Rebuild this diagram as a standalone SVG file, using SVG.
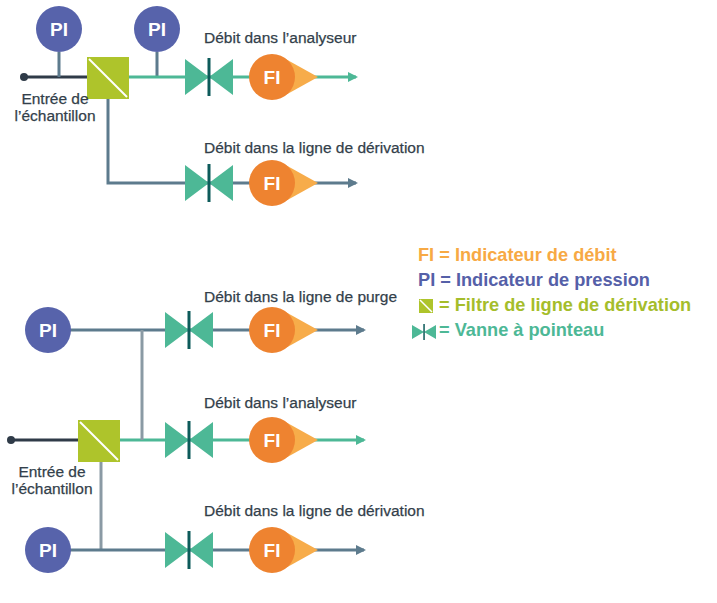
<svg xmlns="http://www.w3.org/2000/svg" width="717" height="603" viewBox="0 0 717 603">
<defs>
<style>
.lbl{font-family:"Liberation Sans",Arial,sans-serif;font-size:15.5px;fill:#333f4b;stroke:#333f4b;stroke-width:0.25}
.pi{fill:#5763ab}
.pit{font-family:"Liberation Sans",Arial,sans-serif;font-size:19px;font-weight:bold;fill:#fff;text-anchor:middle}
.dark{stroke:#2f3b48;stroke-width:3;fill:none}
.grey{stroke:#5d7b8d;stroke-width:3;fill:none}
.grn{stroke:#4db896;stroke-width:3;fill:none}
.lg{font-family:"Liberation Sans",Arial,sans-serif;font-size:18.2px;font-weight:bold}
</style>
<marker id="ag" markerWidth="10" markerHeight="10" refX="8" refY="5" orient="auto" markerUnits="userSpaceOnUse"><path d="M0,0L10,5L0,10z" fill="#4db896"/></marker>
<marker id="ab" markerWidth="10" markerHeight="10" refX="8" refY="5" orient="auto" markerUnits="userSpaceOnUse"><path d="M0,0L10,5L0,10z" fill="#5d7b8d"/></marker>
<g id="valve"><path d="M-24,-18L0,0L-24,18z M24,-18L0,0L24,18z" fill="#4db896"/><rect x="-1.5" y="-19" width="3" height="38" fill="#0d5b5a"/></g>
<g id="fi"><path d="M10,-20L46,0L10,20z" fill="#f7ac4a"/><circle r="23" fill="#ee8330"/><text y="7" class="pit">FI</text></g>
<g id="filt"><rect x="0" y="0" width="42" height="42" fill="#aec42b"/><path d="M2,2L40,40" stroke="#fff" stroke-width="2"/></g>
</defs>
<g id="connectors">
<path class="dark" d="M24,77H87"/>
<path class="grey" d="M59,52V77M157,52V77"/>
<path class="grn" d="M129,77H356" marker-end="url(#ag)"/>
<path class="grey" d="M108,99V183H356" marker-end="url(#ab)"/>
<path class="dark" d="M11,440H78"/>
<path class="grn" d="M119,440H364" marker-end="url(#ag)"/>
<path class="grey" d="M70,330H364" marker-end="url(#ab)"/>
<path class="grey" d="M142,330V440" style="stroke:#8a9aa4"/>
<path class="grey" d="M101,461V550" style="stroke:#8a9aa4"/>
<path class="grey" d="M70,550H364" marker-end="url(#ab)"/>
<circle cx="24" cy="77" r="4" fill="#2f3b48"/>
<circle cx="11" cy="440" r="4" fill="#2f3b48"/>
</g>
<g id="pi1"><circle class="pi" cx="59" cy="29" r="23"/><text x="59" y="36" class="pit">PI</text></g>
<g id="pi2"><circle class="pi" cx="157" cy="29" r="23"/><text x="157" y="36" class="pit">PI</text></g>
<g id="filter1"><use href="#filt" x="87" y="57"/></g>
<g id="valve1"><use href="#valve" x="209" y="77"/></g>
<g id="fi1"><use href="#fi" x="272" y="77"/></g>
<g id="valve2"><use href="#valve" x="209" y="183"/></g>
<g id="fi2"><use href="#fi" x="272" y="183"/></g>
<text class="lbl" x="204" y="43">Débit dans l’analyseur</text>
<text class="lbl" x="204" y="153">Débit dans la ligne de dérivation</text>
<text class="lbl" x="55" y="104" text-anchor="middle">Entrée de</text>
<text class="lbl" x="55" y="121" text-anchor="middle">l’échantillon</text>

<g id="pi3"><circle class="pi" cx="48" cy="330" r="23"/><text x="48" y="337" class="pit">PI</text></g>
<g id="pi4"><circle class="pi" cx="48" cy="550" r="23"/><text x="48" y="557" class="pit">PI</text></g>
<g id="filter2"><use href="#filt" x="78" y="420"/></g>
<g id="valve3"><use href="#valve" x="189" y="330"/></g>
<g id="fi3"><use href="#fi" x="272" y="330"/></g>
<g id="valve4"><use href="#valve" x="189" y="440"/></g>
<g id="fi4"><use href="#fi" x="272" y="440"/></g>
<g id="valve5"><use href="#valve" x="189" y="550"/></g>
<g id="fi5"><use href="#fi" x="272" y="550"/></g>
<text class="lbl" x="204" y="302">Débit dans la ligne de purge</text>
<text class="lbl" x="204" y="408">Débit dans l’analyseur</text>
<text class="lbl" x="204" y="516">Débit dans la ligne de dérivation</text>
<text class="lbl" x="52" y="477" text-anchor="middle">Entrée de</text>
<text class="lbl" x="52" y="494" text-anchor="middle">l’échantillon</text>

<g id="legend">
<text class="lg" x="418" y="261" fill="#f7a944">FI = Indicateur de débit</text>
<text class="lg" x="418" y="286" fill="#5560a8">PI = Indicateur de pression</text>
<rect x="419" y="299" width="14" height="14" fill="#aec42b"/><path d="M420,300L432,312" stroke="#fff" stroke-width="1.5"/>
<text class="lg" x="439" y="311" fill="#a5bd2b">= Filtre de ligne de dérivation</text>
<path d="M412,325L424,332L412,339z M436,325L424,332L436,339z" fill="#4db896"/><rect x="423.3" y="324" width="1.5" height="16" fill="#0d5b5a"/>
<text class="lg" x="439" y="336" fill="#4db896">= Vanne à pointeau</text>
</g>
</svg>
